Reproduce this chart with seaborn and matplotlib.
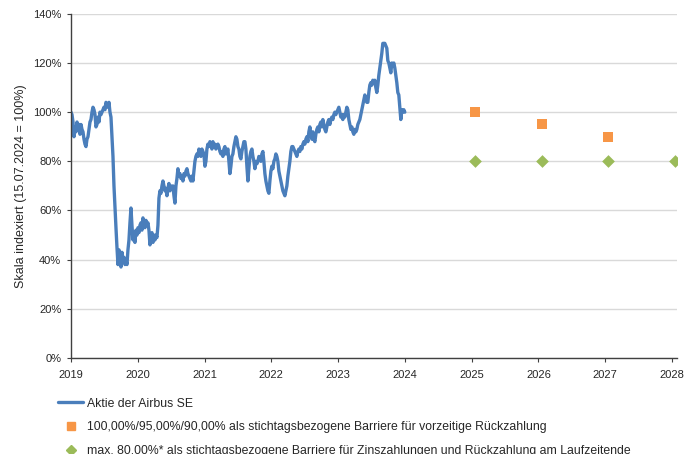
# Airbus SE - indexierter Kursverlauf mit Barrieren
import pandas as pd
import numpy as np
import matplotlib
matplotlib.use("Agg")
import matplotlib.pyplot as plt
import matplotlib.dates as mdates
from matplotlib.lines import Line2D
from matplotlib.ticker import PercentFormatter
import seaborn as sns

kurs = [
    100, 99, 96, 90, 94, 92, 96, 94, 95, 91, 95, 93, 92, 89, 87, 86, 89, 90, 93, 96,
    97, 100, 102, 101, 99, 94, 95, 98, 96, 100, 99, 100, 101, 102, 101, 104, 103, 102, 104, 100,
    98, 90, 82, 70, 61, 53, 45, 38, 44, 40, 37, 43, 39, 41, 38, 40, 38, 44, 48, 55,
    61, 54, 48, 50, 47, 52, 50, 53, 51, 54, 55, 52, 57, 55, 53, 56, 54, 55, 52, 46,
    49, 51, 47, 50, 48, 50, 49, 54, 65, 68, 67, 70, 72, 70, 68, 69, 66, 69, 71, 68,
    70, 69, 70, 66, 63, 70, 73, 77, 74, 75, 73, 74, 72, 75, 74, 76, 77, 75, 74, 73,
    72, 74, 72, 76, 80, 82, 83, 82, 85, 84, 82, 85, 84, 83, 78, 80, 85, 87, 86, 88,
    87, 85, 88, 86, 87, 85, 86, 87, 86, 84, 83, 84, 82, 85, 86, 83, 84, 85, 80, 75,
    78, 82, 83, 86, 88, 90, 89, 86, 85, 82, 81, 84, 86, 88, 88, 85, 78, 72, 77, 82,
    84, 85, 82, 80, 77, 80, 79, 80, 82, 81, 80, 83, 84, 80, 75, 72, 70, 68, 67, 72,
    76, 78, 77, 80, 81, 83, 82, 80, 76, 74, 72, 70, 68, 67, 66, 68, 70, 74, 77, 80,
    84, 86, 86, 85, 84, 83, 82, 84, 85, 84, 86, 85, 87, 88, 87, 89, 90, 88, 92, 94,
    91, 89, 92, 89, 88, 91, 93, 94, 92, 95, 96, 94, 97, 95, 93, 92, 94, 96, 97, 95,
    97, 98, 97, 99, 100, 99, 100, 101, 102, 100, 98, 99, 97, 99, 98, 100, 102, 101, 97, 95,
    93, 94, 92, 91, 93, 92, 93, 95, 96, 97, 99, 101, 103, 105, 107, 105, 104, 104, 108, 111,
    112, 111, 113, 112, 113, 110, 108, 111, 115, 118, 121, 124, 128, 128, 128, 127, 126, 121, 120, 118,
    116, 120, 119, 120, 118, 115, 112, 108, 107, 102, 97, 101, 100, 101, 100,
]
kurs_start = "2019-01-01"
kurs_ende = "2024-01-01"

# Beobachtungstage
stichtage = ["2025-01-21", "2026-01-19", "2027-01-19", "2028-01-19"]
barriere_rueck = [100, 95, 90]   # vorzeitige Rueckzahlung
barriere_zins = [80, 80, 80, 80]  # Zinszahlungen / Laufzeitende

label_kurs = "Aktie der Airbus SE"
label_rueck = "100,00%/95,00%/90,00% als stichtagsbezogene Barriere für vorzeitige Rückzahlung"
label_zins = "max. 80,00%* als stichtagsbezogene Barriere für Zinszahlungen und Rückzahlung am Laufzeitende"

df_kurs = pd.DataFrame({
    "datum": pd.date_range(kurs_start, kurs_ende, periods=len(kurs)),
    "wert": kurs,
})
df_rueck = pd.DataFrame({"datum": pd.to_datetime(stichtage[:3]), "wert": barriere_rueck})
df_zins = pd.DataFrame({"datum": pd.to_datetime(stichtage), "wert": barriere_zins})

sns.set_style("white")
plt.rcParams["font.family"] = ["Liberation Sans", "DejaVu Sans"]

blau = "#4a7ebb"
orange = "#f79646"
gruen = "#9bbb59"

fig = plt.figure(figsize=(6.96, 4.54), dpi=100)
ax = fig.add_axes([0.102, 0.2115, 0.871, 0.758])

sns.lineplot(data=df_kurs, x="datum", y="wert", ax=ax, color=blau, linewidth=2.4, legend=False)
sns.scatterplot(data=df_rueck, x="datum", y="wert", ax=ax, color=orange, marker="s",
                s=60, linewidth=0, legend=False, zorder=3)
sns.scatterplot(data=df_zins, x="datum", y="wert", ax=ax, color=gruen, marker="D",
                s=42, linewidth=0, legend=False, zorder=3)

ax.set_ylim(0, 140)
ax.set_yticks(np.arange(0, 141, 20))
ax.yaxis.set_major_formatter(PercentFormatter(decimals=0))
ax.set_xlim(pd.Timestamp("2019-01-01"), pd.Timestamp("2028-01-30"))
ax.xaxis.set_major_locator(mdates.YearLocator())
ax.xaxis.set_major_formatter(mdates.DateFormatter("%Y"))

ax.grid(axis="y", color="#d9d9d9", linewidth=1)
ax.grid(axis="x", visible=False)
for s in ["top", "right"]:
    ax.spines[s].set_visible(False)
for s in ["left", "bottom"]:
    ax.spines[s].set_color("#404040")
    ax.spines[s].set_linewidth(1)
ax.tick_params(axis="both", which="major", direction="out", length=3, width=0.8,
               color="#404040", labelsize=8, bottom=True, left=True)
ax.tick_params(axis="x", pad=6)
ax.tick_params(axis="y", pad=4)
ax.set_xlabel("")
ax.set_ylabel("Skala indexiert (15.07.2024 = 100%)", fontsize=9, labelpad=4)

handles = [
    Line2D([], [], color=blau, linewidth=2.4),
    Line2D([], [], color=orange, marker="s", linestyle="", markersize=6),
    Line2D([], [], color=gruen, marker="D", linestyle="", markersize=5),
]
fig.legend(handles, [label_kurs, label_rueck, label_zins], loc="upper left",
           bbox_to_anchor=(0.084, 0.124), bbox_transform=fig.transFigure,
           frameon=False, fontsize=8.8, handlelength=2.0, handletextpad=0.3,
           labelspacing=0.95, borderaxespad=0, borderpad=0)

fig.savefig("out.png", dpi=100)
